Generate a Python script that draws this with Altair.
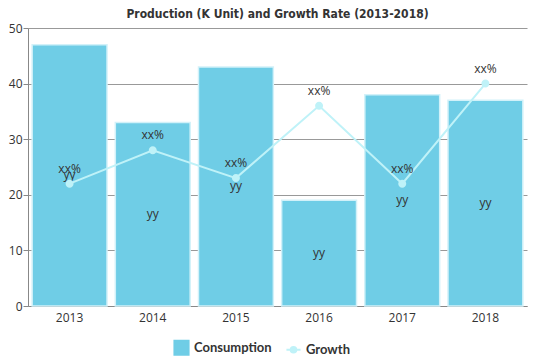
import altair as alt
import pandas as pd

years = ["2013", "2014", "2015", "2016", "2017", "2018"]
consumption = [47, 33, 43, 19, 38, 37]
growth = [22, 28, 23, 36, 22, 40]
bar_labels = ["yy"] * 6
line_labels = ["xx%"] * 6

df = pd.DataFrame({
    "year": years,
    "consumption": consumption,
    "growth": growth,
    "bar_label": bar_labels,
    "line_label": line_labels,
})

BAR = "#6FCDE6"
LINE = "#BFF2F8"
FONT = "Open Sans"
GROWTH_SHAPE = "M-1,0H-0.4M0.4,0H1M0.4,0A0.4,0.4 0 1,1 -0.4,0A0.4,0.4 0 1,1 0.4,0Z"

color_scale = alt.Scale(domain=["Consumption", "Growth"], range=[BAR, LINE])
shape_scale = alt.Scale(domain=["Consumption", "Growth"], range=["square", GROWTH_SHAPE])
legend = alt.Legend(
    title=None, orient="none", direction="horizontal", legendX=145, legendY=311,
    labelFont="Lato", labelFontSize=13, labelFontWeight="bold", labelColor="#333",
    symbolSize=200, symbolStrokeWidth=2, symbolStrokeColor=LINE, columnPadding=10,
)

x = alt.X("year:N", title=None,
          scale=alt.Scale(paddingInner=0.1, paddingOuter=0.05),
          axis=alt.Axis(labelAngle=0, ticks=False, domainColor="#888",
                        labelFont=FONT, labelFontSize=12, labelColor="#333",
                        labelPadding=6, grid=False))
yscale = alt.Scale(domain=[0, 50])
yaxis = alt.Axis(values=[0, 10, 20, 30, 40, 50], title=None, domain=True,
                 domainColor="#888", tickColor="#888", tickSize=5,
                 gridColor="#999", labelFont=FONT, labelFontSize=12,
                 labelColor="#333", labelPadding=1)

base = alt.Chart(df)

bars = base.transform_calculate(series="'Consumption'").mark_bar(
    stroke="#D2F1F9", strokeWidth=1.5
).encode(
    x=x,
    y=alt.Y("consumption:Q", scale=yscale, axis=yaxis),
    color=alt.Color("series:N", scale=color_scale, legend=legend),
)

bar_text = base.transform_calculate(mid="datum.consumption / 2").mark_text(
    font=FONT, fontSize=12, color="#333", baseline="middle"
).encode(x=x, y=alt.Y("mid:Q", scale=yscale), text="bar_label:N")

line = base.transform_calculate(series="'Growth'").mark_line(
    strokeWidth=2,
).encode(
    x=x,
    y=alt.Y("growth:Q", scale=yscale),
    color=alt.Color("series:N", scale=color_scale, legend=legend),
)

points = base.transform_calculate(series="'Growth'").mark_point(
    filled=True, size=400, opacity=1
).encode(
    x=x,
    y=alt.Y("growth:Q", scale=yscale),
    color=alt.Color("series:N", scale=color_scale, legend=legend),
    shape=alt.Shape("series:N", scale=shape_scale, legend=legend),
)

line_text = base.mark_text(
    font=FONT, fontSize=12, color="#333", dy=-15, baseline="middle"
).encode(x=x, y=alt.Y("growth:Q", scale=yscale), text="line_label:N")

chart = alt.layer(bars, bar_text, line, points, line_text).properties(
    width=499, height=278,
    padding={"left": 0, "top": 0, "right": 4, "bottom": 0},
    title=alt.Title("Production (K Unit) and Growth Rate (2013-2018)",
                    font="DejaVu Sans Condensed, DejaVu Sans, sans-serif",
                    fontSize=12, fontWeight="bold",
                    color="#333", offset=1, anchor="middle"),
).configure_view(stroke=None)

chart.save("out.html", embed_options={"renderer": "svg", "actions": False})
